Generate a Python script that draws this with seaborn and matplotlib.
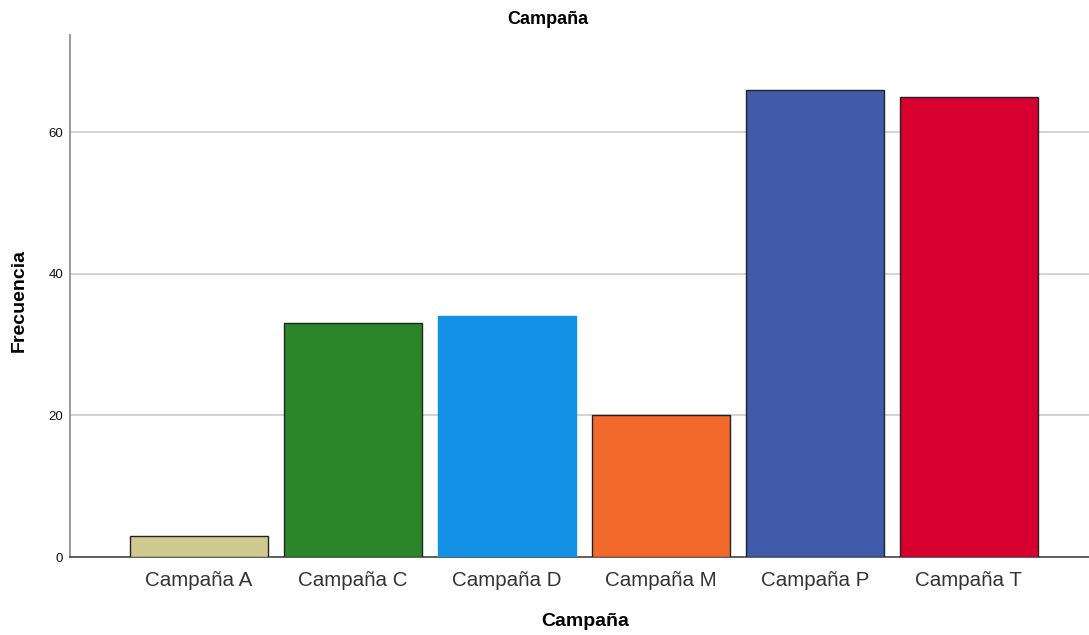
import matplotlib
matplotlib.use("Agg")
import matplotlib.pyplot as plt
import seaborn as sns
import pandas as pd

categories = ["Campaña A", "Campaña C", "Campaña D", "Campaña M", "Campaña P", "Campaña T"]
counts = [3, 33, 34, 20, 66, 65]
colors = ["#D0CA8F", "#2B862A", "#1391E6", "#F2692C", "#3F5BA9", "#D7002E"]
edges = ["#222222", "#222222", "#1391E6", "#222222", "#222222", "#222222"]
yticks = [0, 20, 40, 60]

sns.set_theme(style="white")
plt.rcParams['font.family'] = ['Liberation Sans', 'DejaVu Sans']

df = pd.DataFrame({"cat": categories, "n": counts})

fig = plt.figure(figsize=(10.89, 6.35), dpi=100)
ax = fig.add_axes([70/1089, 78/635, 1 - 70/1089, (557-35)/635])

sns.barplot(data=df, x="cat", y="n", hue="cat", palette=colors, legend=False,
            width=0.896, ax=ax, zorder=3, saturation=1)
for patch, ec in zip(ax.patches, edges):
    patch.set_edgecolor(ec)
    patch.set_linewidth(1.0)

ax.set_xlim(-0.838, 5.78)
ax.set_ylim(0, 73.7)
ax.set_yticks(yticks)
ax.set_yticklabels([str(v) for v in yticks], fontsize=9.5, color="#111111")
ax.tick_params(axis="x", labelsize=14.8, colors="#333333", length=0, pad=10)
ax.tick_params(axis="y", length=0, pad=5)
for v in yticks[1:]:
    ax.axhline(v, color="#cccccc", lw=1.2, zorder=1)

for s in ["top", "right"]:
    ax.spines[s].set_visible(False)
ax.spines["left"].set_color("#888888")
ax.spines["bottom"].set_color("#444444")
ax.spines["left"].set_linewidth(1.2)
ax.spines["bottom"].set_linewidth(1.2)

ax.set_xlabel("Campaña", fontsize=14, fontweight="bold", color="#000000", va="center")
ax.set_ylabel("Frecuencia", fontsize=14, fontweight="bold", color="#000000", va="center")
ax.xaxis.set_label_coords((585 - 70) / 1019, -(621 - 557) / 522)
ax.yaxis.set_label_coords(-(70 - 19) / 1019, (557 - 300) / 522)
fig.text(548/1089, 1 - 19/635, "Campaña", ha="center", va="center", fontsize=13, fontweight="bold", color="#000000")

fig.savefig("out.png", dpi=100)
